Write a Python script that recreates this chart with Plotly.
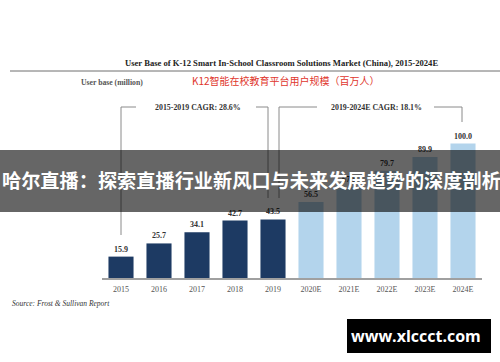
import plotly.graph_objects as go

years = ["2015", "2016", "2017", "2018", "2019", "2020E", "2021E", "2022E", "2023E", "2024E"]
user_base = [15.9, 25.7, 34.1, 42.7, 43.5, 56.5, 67.5, 79.7, 89.9, 100.0]
bar_colors = ["#1d3a63"] * 5 + ["#b3d4ec"] * 5

title_text = "User Base of K-12 Smart In-School Classroom Solutions Market (China), 2015-2024E"
ylabel_text = "User base (million)"
cn_subtitle = "K12智能在校教育平台用户规模（百万人）"
cagr_left = "2015-2019 CAGR: 28.6%"
cagr_right = "2019-2024E CAGR: 18.1%"
source_text = "Source: Frost & Sullivan Report"
banner_text = "哈尔直播：探索直播行业新风口与未来发展趋势的深度剖析"
watermark_text = "www.xlccct.com"

FW, FH = 500, 362
L, R, T, B = 102, 18, 0, 84
W = FW - L - R
H = FH - T - B
PX_PER_UNIT = 1.345
YMAX = H / PX_PER_UNIT


def px(x):
    return (x - L) / W


def py(y):
    return 1 - (y - T) / H


SERIF = "Liberation Serif, Times New Roman, serif"
CJK = "Noto Sans CJK SC, sans-serif"

fig = go.Figure()
fig.add_trace(go.Bar(
    x=years, y=user_base,
    marker=dict(color=bar_colors, line=dict(width=0)),
    width=0.66,
    text=user_base,
    texttemplate="<b>%{y:.1f}</b>",
    textposition="outside",
    textfont=dict(family=SERIF, size=8, color="#333333"),
    cliponaxis=False,
    hoverinfo="skip",
))

shapes = []
line_style = dict(color="#8a8a8a", width=1)
# title rule
shapes.append(dict(type="line", xref="paper", yref="paper", x0=px(10), x1=px(500), y0=py(71), y1=py(71),
                   line=dict(color="#6e6e6e", width=1)))
# CAGR brackets
for (x0, y0, x1, y1) in [(121, 235, 121, 107), (121, 107, 136, 107), (256, 107, 268, 107), (268, 107, 268, 198),
                         (279, 198, 279, 107), (279, 107, 317, 107), (434, 107, 462, 107), (462, 107, 462, 122)]:
    shapes.append(dict(type="line", xref="paper", yref="paper", x0=px(x0), x1=px(x1), y0=py(y0), y1=py(y1),
                       line=line_style))
# banner overlay
shapes.append(dict(type="rect", xref="paper", yref="paper", x0=px(0), x1=px(500), y0=py(150), y1=py(212),
                   fillcolor="rgba(0,0,0,0.6)", line=dict(width=0), layer="above"))
# watermark box
shapes.append(dict(type="rect", xref="paper", yref="paper", x0=px(347), x1=px(491), y0=py(319), y1=py(353),
                   fillcolor="#000000", line=dict(width=0), layer="above"))

annotations = [
    dict(text="<b>" + title_text + "</b>", x=px(281), y=py(63), font=dict(family=SERIF, size=8.6, color="#222")),
    dict(text="<b>" + ylabel_text + "</b>", x=px(112), y=py(83), font=dict(family=SERIF, size=7.7, color="#555")),
    dict(text=cn_subtitle, x=px(286), y=py(81), font=dict(family=CJK, size=10, color="#e0362c")),
    dict(text="<b>" + cagr_left + "</b>", x=px(198), y=py(107), font=dict(family=SERIF, size=7.9, color="#333")),
    dict(text="<b>" + cagr_right + "</b>", x=px(376), y=py(107), font=dict(family=SERIF, size=7.9, color="#333")),
    dict(text="<i>" + source_text + "</i>", x=px(10), y=py(303), xanchor="left",
         font=dict(family=SERIF, size=7.5, color="#333")),
    dict(text="<b>" + banner_text + "</b>", x=px(251), y=py(180), font=dict(family=CJK, size=19.2, color="#ffffff")),
    dict(text="<b>" + watermark_text + "</b>", x=px(416), y=py(336), font=dict(family="Open Sans, sans-serif", size=16, color="#ffffff")),
]
for a in annotations:
    a.setdefault("xanchor", "center")
    a.update(xref="paper", yref="paper", yanchor="middle", showarrow=False)

fig.update_layout(
    width=FW, height=FH,
    margin=dict(l=L, r=R, t=T, b=B),
    paper_bgcolor="white", plot_bgcolor="white",
    showlegend=False,
    bargap=0.34,
    shapes=shapes,
    annotations=annotations,
    xaxis=dict(showline=True, linecolor="#a0a0a0", linewidth=1.5, ticks="outside", ticklen=3, tickcolor="rgba(0,0,0,0)",
               showgrid=False, tickfont=dict(family=SERIF, size=8, color="#555"), fixedrange=True),
    yaxis=dict(range=[0, YMAX], visible=False, showgrid=False, fixedrange=True),
)

fig.write_html("out.html", config={"displayModeBar": False},
               post_script="document.body.style.margin='0';document.body.style.overflow='hidden';")
